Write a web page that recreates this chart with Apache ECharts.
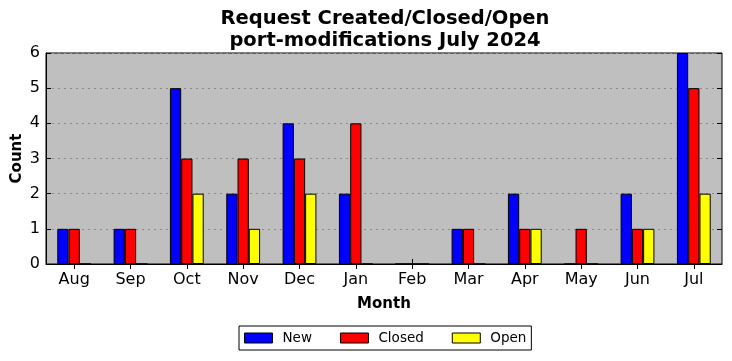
<!DOCTYPE html>
<html><head><meta charset="utf-8">
<script src="https://cdn.jsdelivr.net/npm/echarts@6/dist/echarts.min.js"></script>
<style>html,body{margin:0;padding:0;background:#fff}#c{width:732px;height:361px}</style>
</head><body><div id="c"></div>
<script>
const months = ['Aug','Sep','Oct','Nov','Dec','Jan','Feb','Mar','Apr','May','Jun','Jul'];
const newVals = [1,1,5,2,4,2,0,1,2,0,2,6];
const closedVals = [1,1,3,3,3,4,0,1,1,1,1,5];
const openVals = [0,0,2,1,2,0,0,0,1,0,1,2];
const yTicks = [0,1,2,3,4,5,6];

const FONT = 'DejaVu Sans';
const chart = echarts.init(document.getElementById('c'), null, {renderer:'canvas'});
const barStyle = (c) => ({color:c, borderColor:'#000', borderWidth:1});
chart.setOption({
  animation:false,
  backgroundColor:'#fff',
  title:{
    text:'Request Created/Closed/Open\nport-modifications July 2024',
    left:380, top:3, textAlign:'center',
    textStyle:{fontFamily:FONT, fontWeight:'bold', fontSize:19.5, lineHeight:22, color:'#000'}
  },
  grid:{left:46, right:10, top:53, bottom:97, show:true, backgroundColor:'#bfbfbf', borderColor:'#000', borderWidth:1, containLabel:false, outerBoundsMode:'none'},
  legend:{
    left:239, top:326, padding:[5,5], itemGap:28, itemWidth:28, itemHeight:10,
    borderColor:'#000', borderWidth:1, borderRadius:0,
    icon:'rect',
    itemStyle:{borderColor:'#000', borderWidth:1},
    textStyle:{fontFamily:FONT, fontSize:13.5, color:'#000', padding:[0,0,0,5]},
    data:['New','Closed','Open']
  },
  xAxis:[{
    type:'category', data:months, position:'bottom',
    name:'Month', nameLocation:'middle', nameGap:33, nameMoveOverlap:false,
    nameTextStyle:{fontFamily:FONT, fontWeight:'bold', fontSize:15, color:'#000'},
    axisLine:{show:true, lineStyle:{color:'#000'}},
    axisTick:{show:true, inside:true, alignWithLabel:true, length:5, lineStyle:{color:'#000'}},
    axisLabel:{fontFamily:FONT, fontSize:16, color:'#000', margin:8},
    splitLine:{show:false}
  },{
    type:'category', data:months, position:'top',
    axisLine:{show:false},
    axisTick:{show:true, inside:true, alignWithLabel:true, length:5, lineStyle:{color:'#000'}},
    axisLabel:{show:false}, splitLine:{show:false}
  }],
  yAxis:[{
    type:'value', min:0, max:6, interval:1, position:'left',
    name:'Count', nameLocation:'middle', nameGap:21, nameRotate:90, nameMoveOverlap:false,
    nameTextStyle:{fontFamily:FONT, fontWeight:'bold', fontSize:15, color:'#000'},
    axisLine:{show:true, lineStyle:{color:'#000'}},
    axisTick:{show:true, inside:true, length:5, lineStyle:{color:'#000'}},
    axisLabel:{fontFamily:FONT, fontSize:16, color:'#000', margin:6, formatter:(v)=>yTicks.includes(v)?String(v):''},
    splitLine:{show:true, lineStyle:{color:'#8a8a8a', type:[2,4], width:1}}
  },{
    type:'value', min:0, max:6, interval:1, position:'right',
    axisLine:{show:false},
    axisTick:{show:true, inside:true, length:5, lineStyle:{color:'#000'}},
    axisLabel:{show:false}, splitLine:{show:false}
  }],
  series:[
    {name:'New', type:'bar', data:newVals, barWidth:'20%', barGap:'0%', itemStyle:barStyle('#0000ff')},
    {name:'Closed', type:'bar', data:closedVals, barWidth:'20%', barGap:'0%', itemStyle:barStyle('#ff0000')},
    {name:'Open', type:'bar', data:openVals, barWidth:'20%', barGap:'0%', itemStyle:barStyle('#ffff00')}
  ]
});
</script></body></html>
